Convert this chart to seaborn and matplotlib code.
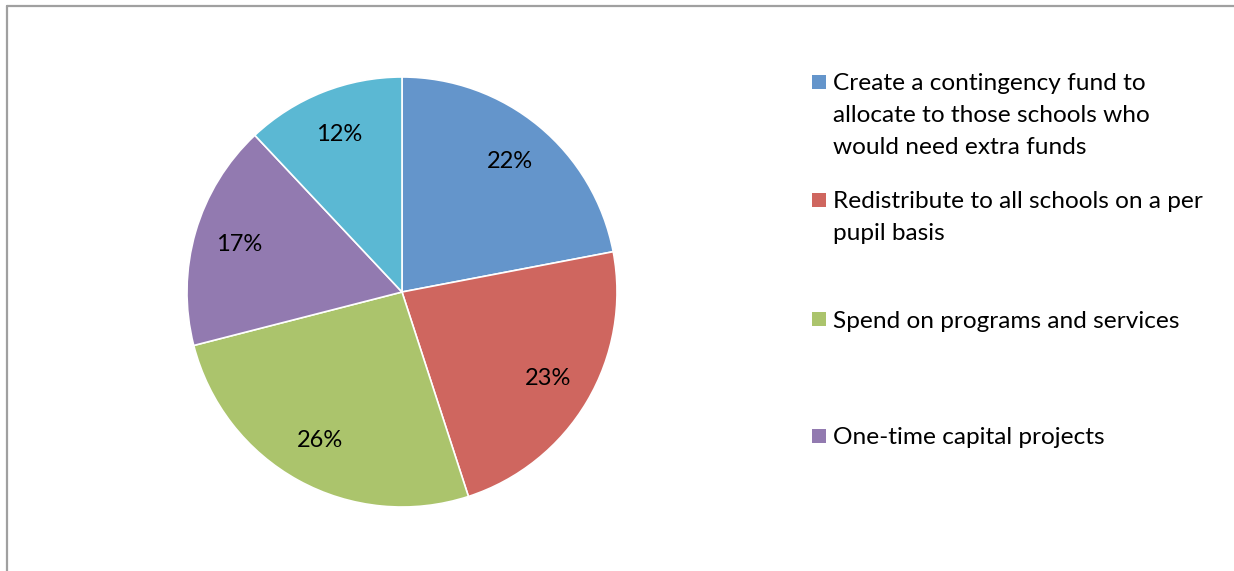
import matplotlib
matplotlib.use("Agg")
import matplotlib.pyplot as plt
from matplotlib.lines import Line2D
from matplotlib.patches import Rectangle
import seaborn as sns

# data
options = [
    "Create a contingency fund to\nallocate to those schools who\nwould need extra funds",
    "Redistribute to all schools on a per\npupil basis",
    "Spend on programs and services",
    "One-time capital projects",
    "Other",
]
shares = [22, 23, 26, 17, 12]
colors = ["#6495CB", "#CF665F", "#ABC46C", "#927AB0", "#5BB8D3"]
legend_count = 4  # the last entry is cut off in the original

sns.set_theme(style="white")
plt.rcParams["font.family"] = ["Lato", "DejaVu Sans"]

W, H = 1234, 571
fig = plt.figure(figsize=(W / 100, H / 100), dpi=100)
fig.patch.set_facecolor("white")

# pie placement (pixels, from top-left)
cx, cy, r = 402, 292, 215
ax = fig.add_axes([(cx - r) / W, (H - cy - r) / H, 2 * r / W, 2 * r / H])
wedges, texts = ax.pie(
    shares,
    colors=colors,
    startangle=90,
    counterclock=False,
    labels=[f"{s}%" for s in shares],
    labeldistance=0.79,
    wedgeprops=dict(edgecolor="white", linewidth=1.2),
    textprops=dict(fontsize=17, color="black", ha="center", va="center"),
)
for t in texts:
    t.set_horizontalalignment("center")
ax.set_xlim(-1, 1)
ax.set_ylim(-1, 1)
ax.set_aspect("equal")
ax.axis("off")

# legend drawn by hand so markers sit on the first line, like Excel
tops = [75, 193, 312, 429]
for i in range(legend_count):
    top = tops[i]
    fig.patches.append(Rectangle((812 / W, 1 - (top + 14) / H), 14 / W, 14 / H,
                                 transform=fig.transFigure, facecolor=colors[i],
                                 edgecolor="none"))
    for j, line in enumerate(options[i].split("\n")):
        y = top + 9 + 32 * j
        fig.text(833 / W, 1 - y / H, line, fontsize=17.6, va="center", ha="left",
                 color="black")

# chart frame (only the top and left edges are visible)
fig.add_artist(Line2D([7 / W, 1], [1 - 6 / H, 1 - 6 / H], color="#A0A0A0",
                      linewidth=1.6, transform=fig.transFigure))
fig.add_artist(Line2D([7 / W, 7 / W], [0, 1 - 6 / H], color="#A0A0A0",
                      linewidth=1.6, transform=fig.transFigure))

fig.savefig("out.png", dpi=100)
